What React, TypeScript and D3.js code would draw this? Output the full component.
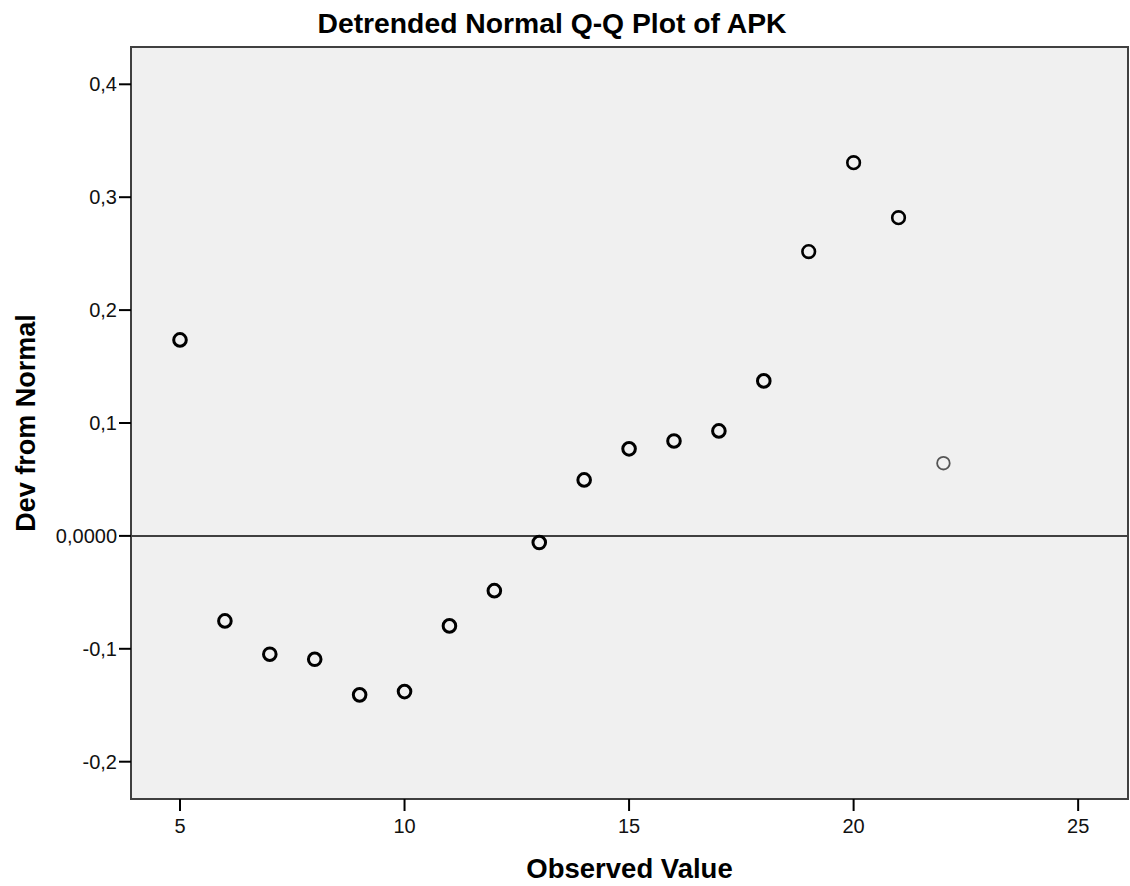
import React from "react";
import * as d3 from "d3";

const observed: number[] = [5, 6, 7, 8, 9, 10, 11, 12, 13, 14, 15, 16, 17, 18, 19, 20, 21, 22];
const devFromNormal: number[] = [
  0.1736, -0.0753, -0.1048, -0.1093, -0.1408, -0.1379, -0.0797, -0.0485, -0.0059,
  0.0496, 0.0771, 0.0841, 0.093, 0.1373, 0.2518, 0.3306, 0.2819, 0.0644,
];
// number of cases at each observed value (drives marker darkness)
const caseCount: number[] = [3, 3, 3, 3, 3, 3, 3, 3, 3, 3, 3, 3, 3, 3, 2, 2, 2, 1];
const xTicks: number[] = [5, 10, 15, 20, 25];
const yTicks: number[] = [-0.2, -0.1, 0, 0.1, 0.2, 0.3, 0.4];
const yTickLabels: string[] = ["-0,2", "-0,1", "0,0000", "0,1", "0,2", "0,3", "0,4"];
const titleText = "Detrended Normal Q-Q Plot of APK";
const xTitle = "Observed Value";
const yTitle = "Dev from Normal";

const W = 1130;
const H = 886;
const L = 131, T = 47, R = 1128, B = 799;
const FONT = "'Liberation Sans', Arial, sans-serif";

export default function App() {
  const x = d3.scaleLinear().domain([3.909, 26.11]).range([L, R]);
  const y = d3.scaleLinear().domain([-0.2 - 37.3 / 1129, 0.4 + 37.3 / 1129]).range([B, T]);
  const pts = observed.map((v, i) => ({ v, d: devFromNormal[i], c: caseCount[i] }));
  return (
    <div style={{ position: "absolute", left: 0, top: 0 }}>
      <svg width={W} height={H} style={{ display: "block", background: "#fff" }}>
        <text x={552} y={33} textAnchor="middle" fontFamily={FONT} fontWeight="bold" fontSize={28.3} fill="#000">
          {titleText}
        </text>
        <rect x={L} y={T} width={R - L} height={B - T} fill="#f0f0f0" stroke="#404040" strokeWidth={2} />
        <line x1={L} x2={R} y1={y(0)} y2={y(0)} stroke="#404040" strokeWidth={2} />
        {yTicks.map((t, i) => (
          <g key={"y" + i}>
            <line x1={L - 12} x2={L} y1={y(t)} y2={y(t)} stroke="#000" strokeWidth={2} />
            <text x={L - 14} y={y(t) + 7} textAnchor="end" fontFamily={FONT} fontSize={20} fill="#111">
              {yTickLabels[i]}
            </text>
          </g>
        ))}
        {xTicks.map((t, i) => (
          <g key={"x" + i}>
            <line x1={x(t)} x2={x(t)} y1={B} y2={B + 12} stroke="#000" strokeWidth={2} />
            <text x={x(t)} y={833} textAnchor="middle" fontFamily={FONT} fontSize={20} fill="#111">
              {String(t)}
            </text>
          </g>
        ))}
        {pts.map((p, i) => (
          <circle
            key={"p" + i}
            cx={x(p.v)}
            cy={y(p.d)}
            r={6.3}
            fill="none"
            stroke={p.c >= 2 ? "#000" : "#555"}
            strokeWidth={p.c >= 3 ? 3 : p.c === 2 ? 2.6 : 1.8}
          />
        ))}
        <text x={(L + R) / 2} y={878} textAnchor="middle" fontFamily={FONT} fontWeight="bold" fontSize={27.5} fill="#000">
          {xTitle}
        </text>
        <text
          transform={`translate(35, ${(T + B) / 2}) rotate(-90)`}
          textAnchor="middle"
          fontFamily={FONT}
          fontWeight="bold"
          fontSize={27}
          fill="#000"
        >
          {yTitle}
        </text>
      </svg>
    </div>
  );
}
